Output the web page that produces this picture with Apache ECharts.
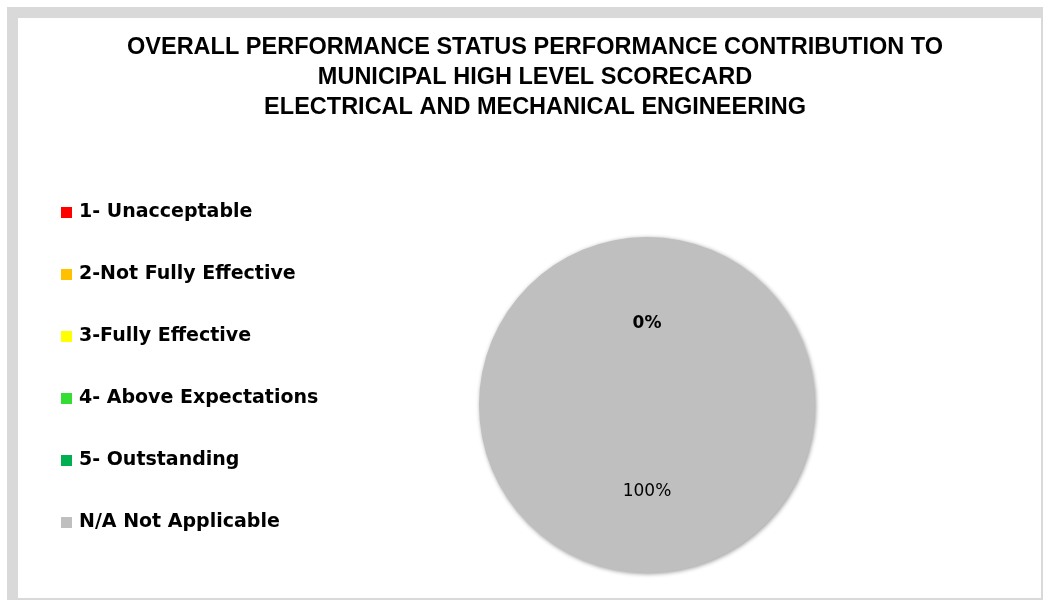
<!DOCTYPE html>
<html>
<head>
<meta charset="utf-8">
<script src="https://cdn.jsdelivr.net/npm/echarts@6/dist/echarts.min.js"></script>
<style>
  html, body { margin: 0; padding: 0; background: #ffffff; }
  #frame { position: absolute; left: 7px; top: 7px; width: 1023px; height: 580px;
           border-style: solid; border-color: #d9d9d9; border-width: 11px 2px 2px 11px; background: #fff; }
  #chart { position: absolute; left: 0; top: 0; width: 1046px; height: 602px; }
</style>
</head>
<body>
<div id="frame"></div>
<div id="chart"></div>
<script>
const titleLines = [
  'OVERALL PERFORMANCE STATUS PERFORMANCE CONTRIBUTION TO',
  'MUNICIPAL HIGH LEVEL SCORECARD',
  'ELECTRICAL AND MECHANICAL ENGINEERING'
];
const categories = ['1- Unacceptable', '2-Not Fully Effective', '3-Fully Effective', '4- Above Expectations', '5- Outstanding', 'N/A Not Applicable'];
const values = [0, 0, 0, 0, 0, 100];
const colors = ['#ff0000', '#ffc000', '#ffff00', '#33dd33', '#00b050', '#bfbfbf'];

const chart = echarts.init(document.getElementById('chart'), null, { renderer: 'canvas' });
chart.setOption({
  backgroundColor: 'transparent',
  animation: false,
  color: colors,
  title: {
    text: titleLines.join('\n'),
    left: 530,
    top: 28,
    textAlign: 'center',
    textStyle: {
      fontFamily: 'Liberation Sans',
      fontWeight: 'bold',
      fontSize: 23.5,
      lineHeight: 30,
      color: '#000'
    }
  },
  legend: {
    orient: 'vertical',
    left: 56,
    top: 198,
    icon: 'rect',
    itemWidth: 11,
    itemHeight: 11,
    itemGap: 43,
    data: categories,
    textStyle: {
      fontFamily: 'DejaVu Sans',
      fontWeight: 'bold',
      fontSize: 19,
      lineHeight: 19,
      color: '#000',
      padding: [0, 0, 0, 2]
    }
  },
  series: [{
    type: 'pie',
    center: [647, 405],
    radius: 168,
    startAngle: 90,
    clockwise: true,
    avoidLabelOverlap: false,
    minShowLabelAngle: 0,
    itemStyle: {
      shadowBlur: 4,
      shadowColor: 'rgba(0,0,0,0.4)',
      shadowOffsetX: 1,
      shadowOffsetY: 1
    },
    label: {
      show: true,
      position: 'inner',
      formatter: '{d}%',
      fontFamily: 'DejaVu Sans',
      fontSize: 17,
      color: '#000'
    },
    labelLine: { show: false },
    emphasis: { disabled: true },
    data: categories.map((c, i) => ({
      name: c,
      value: values[i],
      label: values[i] === 0 ? { fontWeight: 'bold', offset: [0, 6] } : {}
    }))
  }]
});
</script>
</body>
</html>
